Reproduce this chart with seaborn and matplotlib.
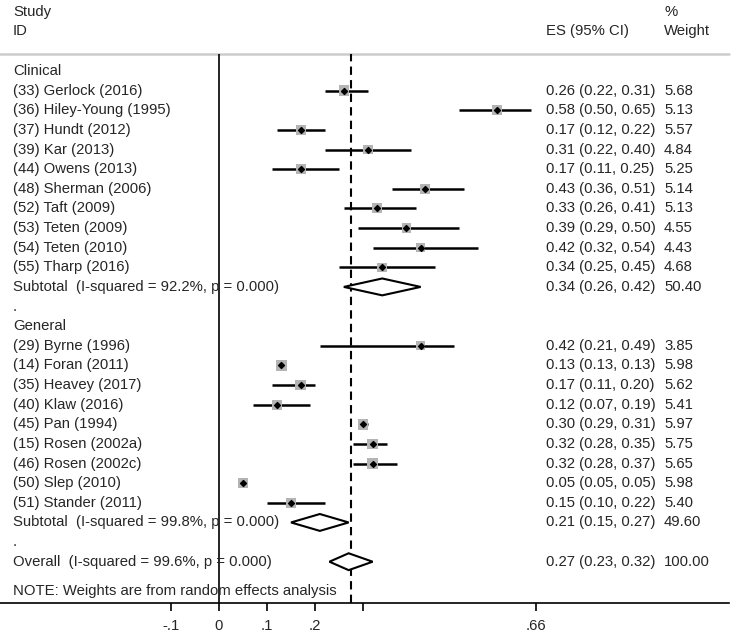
import numpy as np
import pandas as pd
import matplotlib
matplotlib.use("Agg")
import matplotlib.pyplot as plt
import matplotlib.transforms as mtransforms
import seaborn as sns

# Dữ liệu
clinical_names = ['(33) Gerlock (2016)', '(36) Hiley-Young (1995)', '(37) Hundt (2012)',
                  '(39) Kar (2013)', '(44) Owens (2013)', '(48) Sherman (2006)',
                  '(52) Taft (2009)', '(53) Teten (2009)', '(54) Teten (2010)',
                  '(55) Tharp (2016)']
clinical_es = [0.26, 0.58, 0.17, 0.31, 0.17, 0.43, 0.33, 0.39, 0.42, 0.34]
clinical_lo = [0.22, 0.50, 0.12, 0.22, 0.11, 0.36, 0.26, 0.29, 0.32, 0.25]
clinical_hi = [0.31, 0.65, 0.22, 0.40, 0.25, 0.51, 0.41, 0.50, 0.54, 0.45]
clinical_w = [5.68, 5.13, 5.57, 4.84, 5.25, 5.14, 5.13, 4.55, 4.43, 4.68]

general_names = ['(29) Byrne (1996)', '(14) Foran (2011)', '(35) Heavey (2017)',
                 '(40) Klaw (2016)', '(45) Pan (1994)', '(15) Rosen (2002a)',
                 '(46) Rosen (2002c)', '(50) Slep (2010)', '(51) Stander (2011)']
general_es = [0.42, 0.13, 0.17, 0.12, 0.30, 0.32, 0.32, 0.05, 0.15]
general_lo = [0.21, 0.13, 0.11, 0.07, 0.29, 0.28, 0.28, 0.05, 0.10]
general_hi = [0.49, 0.13, 0.20, 0.19, 0.31, 0.35, 0.37, 0.05, 0.22]
general_w = [3.85, 5.98, 5.62, 5.41, 5.97, 5.75, 5.65, 5.98, 5.40]

pooled_labels = ['Subtotal  (I-squared = 92.2%, p = 0.000)',
                 'Subtotal  (I-squared = 99.8%, p = 0.000)',
                 'Overall  (I-squared = 99.6%, p = 0.000)']
pooled_es = [0.34, 0.21, 0.27]
pooled_lo = [0.26, 0.15, 0.23]
pooled_hi = [0.42, 0.27, 0.32]
pooled_w = [50.40, 49.60, 100.00]
overall_line = 0.274

tick_vals = [-0.1, 0, 0.1, 0.2, 0.3, 0.66]
tick_labels = ['-.1', '0', '.1', '.2', '', '.66']

# Vị trí hàng
clin_rows = np.arange(1, 1 + len(clinical_names))
gen_rows = np.arange(14, 14 + len(general_names))
pooled_rows = [11, 23, 25]

studies = pd.DataFrame({
    'name': clinical_names + general_names,
    'es': clinical_es + general_es,
    'lo': clinical_lo + general_lo,
    'hi': clinical_hi + general_hi,
    'w': clinical_w + general_w,
    'row': np.concatenate([clin_rows, gen_rows]),
})

sns.set_style("white")
plt.rcParams['font.family'] = ['Liberation Sans', 'DejaVu Sans']
fs = 10.7

fig = plt.figure(figsize=(7.32, 6.37), dpi=100)
ax = fig.add_axes([0, 0.0538, 0.996, 0.8614])

# Khung trục
ax.set_xlim(-219 / 480, 510 / 480)
ax.set_ylim(27.09, -0.866)
for s in ['top', 'left', 'right']:
    ax.spines[s].set_visible(False)
ax.spines['bottom'].set_color('black')
ax.spines['bottom'].set_linewidth(1.2)
ax.axhline(-0.866, color='#cccccc', lw=1.8, clip_on=False)
ax.axvline(0, color='black', lw=1.2)
ax.axvline(overall_line, color='black', lw=1.5, ls=(0, (4, 2.5)))

# Khoảng tin cậy
ax.hlines(studies['row'], studies['lo'], studies['hi'], color='black', lw=1.8, zorder=2)

# Ô vuông trọng số
sns.scatterplot(data=studies, x='es', y='row', size='w', sizes=(40, 58), size_norm=(3.85, 5.98),
                marker='s', color='#b4b4b4', edgecolor='none', legend=False, ax=ax, zorder=3)
ax.scatter(studies['es'], studies['row'], marker='D', s=9, color='black', zorder=4)

# Hình thoi gộp
for r, e, l, h in zip(pooled_rows, pooled_es, pooled_lo, pooled_hi):
    ax.fill([l, e, h, e, l], [r, r - 0.43, r, r + 0.43, r], facecolor='white',
            edgecolor='black', lw=1.5, zorder=3)

ax.set_xticks(tick_vals)
ax.set_xticklabels(tick_labels, fontsize=fs)
ax.set_yticks([])
ax.tick_params(axis='x', direction='out', length=6, width=1.2, color='black', pad=6, bottom=True)
ax.set_xlabel('')
ax.set_ylabel('')

# Văn bản
tr = mtransforms.blended_transform_factory(ax.transAxes, ax.transData)
xl, xe, xw = 13 / 729, 546 / 729, 664 / 729
ax.text(xl, -3.0, 'Study', transform=tr, fontsize=fs, va='center', clip_on=False)
ax.text(xl, -2.04, 'ID', transform=tr, fontsize=fs, va='center', clip_on=False)
ax.text(xe, -2.04, 'ES (95% CI)', transform=tr, fontsize=fs, va='center', clip_on=False)
ax.text(xw, -3.0, '%', transform=tr, fontsize=fs, va='center', clip_on=False)
ax.text(xw, -2.04, 'Weight', transform=tr, fontsize=fs, va='center', clip_on=False)

ax.text(xl, 0, 'Clinical', transform=tr, fontsize=fs, va='center')
ax.text(xl, 12, '.', transform=tr, fontsize=fs, va='center')
ax.text(xl, 13, 'General', transform=tr, fontsize=fs, va='center')
ax.text(xl, 24, '.', transform=tr, fontsize=fs, va='center')
ax.text(xl, 26.5, 'NOTE: Weights are from random effects analysis', transform=tr,
        fontsize=fs, va='center')

for _, d in studies.iterrows():
    ax.text(xl, d['row'], d['name'], transform=tr, fontsize=fs, va='center')
    ax.text(xe, d['row'], f"{d['es']:.2f} ({d['lo']:.2f}, {d['hi']:.2f})", transform=tr,
            fontsize=fs, va='center')
    ax.text(xw, d['row'], f"{d['w']:.2f}", transform=tr, fontsize=fs, va='center')

for r, lab, e, l, h, w in zip(pooled_rows, pooled_labels, pooled_es, pooled_lo, pooled_hi, pooled_w):
    ax.text(xl, r, lab, transform=tr, fontsize=fs, va='center')
    ax.text(xe, r, f"{e:.2f} ({l:.2f}, {h:.2f})", transform=tr, fontsize=fs, va='center')
    ax.text(xw, r, f"{w:.2f}", transform=tr, fontsize=fs, va='center')

fig.savefig('out.png', dpi=100)
